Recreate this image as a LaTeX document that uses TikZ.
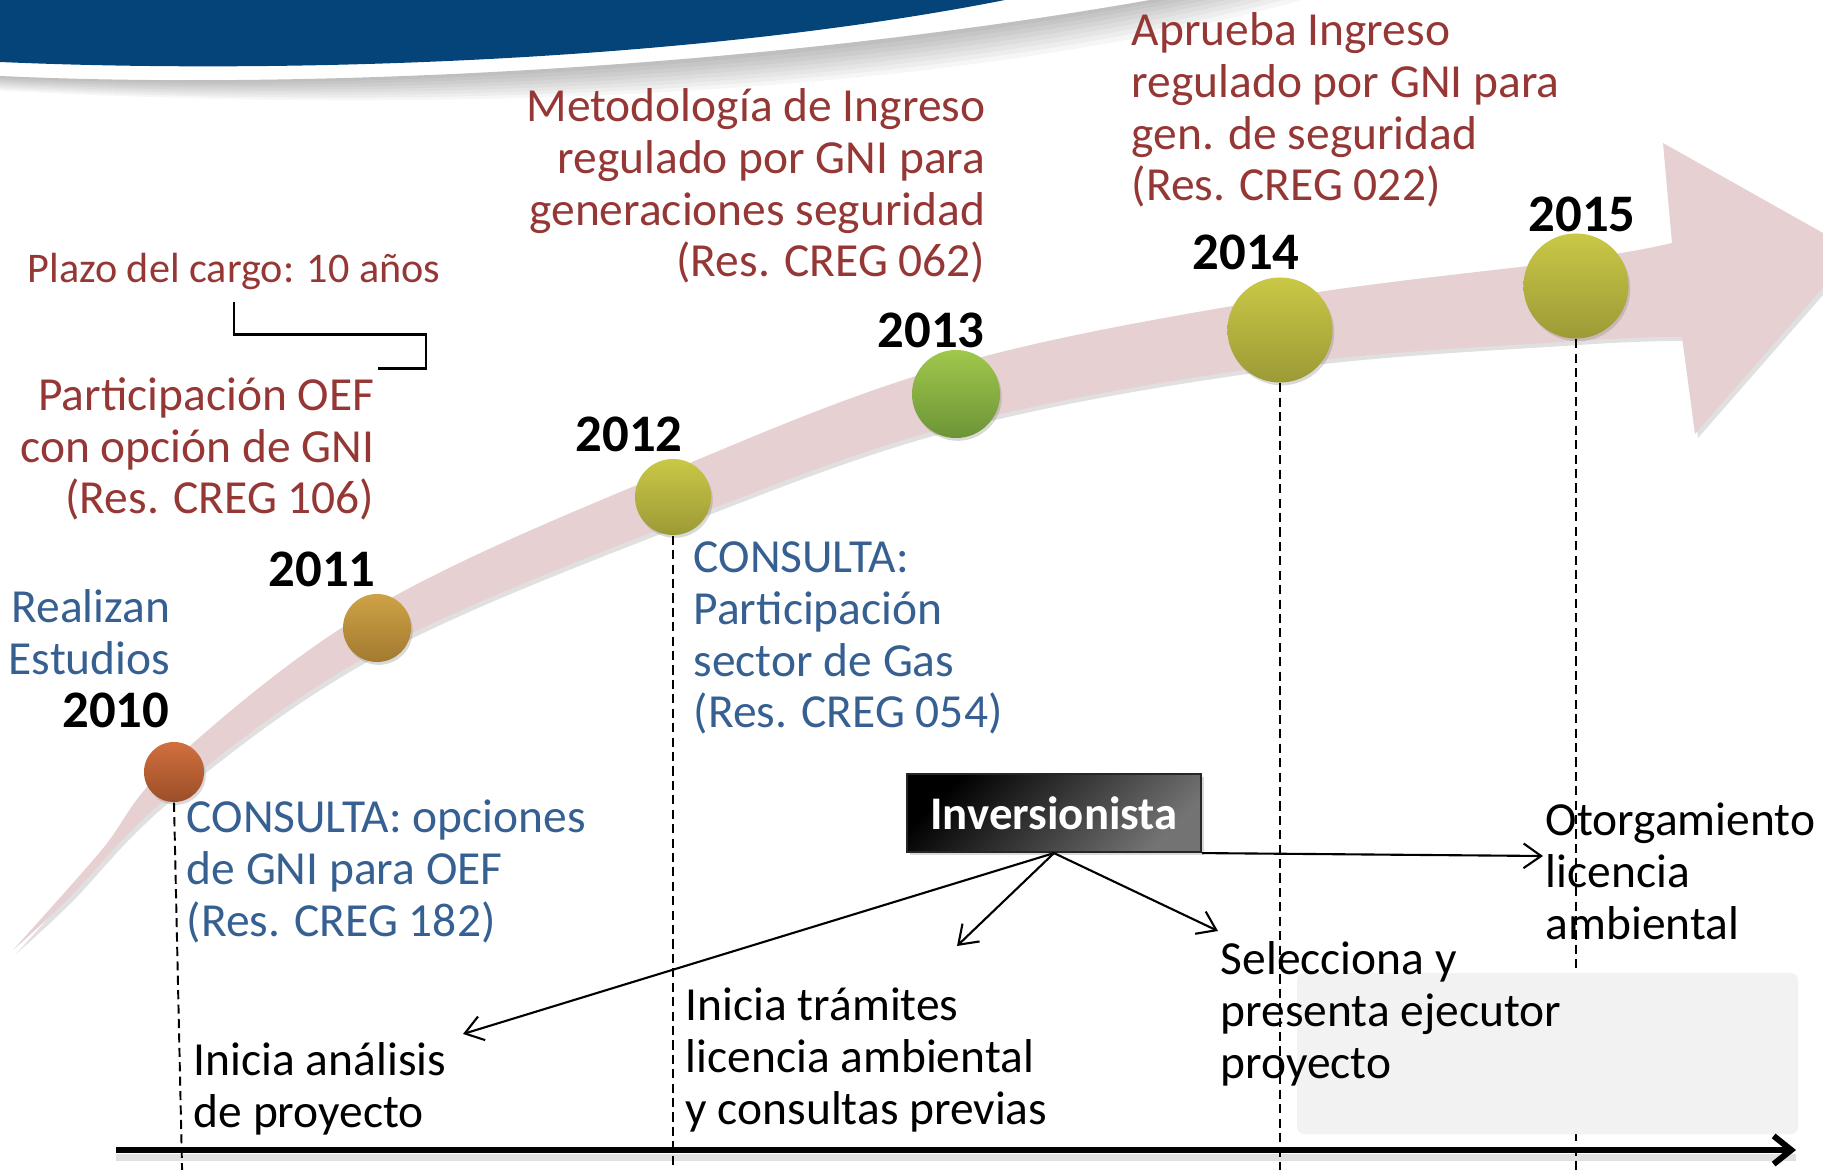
\documentclass[tikz,border=0pt]{standalone}
\usepackage{fontspec}
\setmainfont{Carlito}
\usetikzlibrary{arrows.meta,shadows}
\definecolor{resred}{RGB}{149,55,53}
\definecolor{resblue}{RGB}{55,96,146}
\definecolor{swooshblue}{RGB}{5,68,120}
\definecolor{bandpink}{RGB}{231,208,209}
\definecolor{panelgray}{RGB}{242,242,242}
\definecolor{orangeTop}{RGB}{208,112,62}
\definecolor{orangeBot}{RGB}{156,78,40}
\definecolor{goldTop}{RGB}{206,162,70}
\definecolor{goldBot}{RGB}{162,122,48}
\definecolor{oliveTop}{RGB}{202,200,70}
\definecolor{oliveBot}{RGB}{156,154,54}
\definecolor{greenTop}{RGB}{160,200,76}
\definecolor{greenBot}{RGB}{108,148,54}
\newcommand{\bandpath}{plot[smooth, tension=0.6] coordinates {(13,950) (100,852) (174,760) (377,606) (673,470) (956,364) (1280,298) (1576,260) (1672,243)}
  -- (1663,143) -- (1855,251) -- (1695,434)
  -- plot[smooth, tension=0.6] coordinates {(1682,337) (1576,341) (1280,365) (956,425) (673,524) (377,651) (174,792) (67,900) (13,950)} -- cycle}
\tikzset{
  note/.style={inner sep=0pt, font=\fontsize{13.5}{14.7}\selectfont},
  rednote/.style={note, text=resred},
  bluenote/.style={note, text=resblue},
  year/.style={inner sep=0pt, font=\fontsize{15}{18}\selectfont\bfseries},
  ball/.style={circle, inner sep=0pt, drop shadow={shadow xshift=0.5pt, shadow yshift=-0.8pt, opacity=0.3}},
  guide/.style={dash pattern=on 2.6pt off 1.5pt, line width=0.55pt},
  pointer/.style={-{Straight Barb[length=5pt,width=7pt]}, line width=0.6pt},
  timeaxis/.style={line width=1.7pt, -{Straight Barb[length=5pt,width=8pt]}},
  invbox/.style={rectangle, draw=black!85, line width=0.6pt, top color=black, bottom color=black!55, shading angle=45,
    text=white, font=\fontsize{13.3}{16}\selectfont\bfseries, minimum width=2.94cm, minimum height=0.78cm, inner sep=0pt,
    drop shadow={shadow xshift=0.8pt, shadow yshift=-0.8pt, opacity=0.3}}
}
\begin{document}
\begin{tikzpicture}[x=0.01cm, y=-0.01cm]
	\useasboundingbox (0,0) rectangle (1823,1170);
	\clip (0,0) rectangle (1823,1170);
	% header swoosh and its shadow
	\foreach \k in {1,...,8}
		\fill[black, opacity=0.035] (0,76) .. controls (300,90) and (750,70) .. (1150,0)
			-- ({1150+19*\k},0) .. controls ({750+19*\k},{70+5*\k}) and ({300+6*\k},{90+2.5*\k}) .. (0,{76+1.8*\k}) -- cycle;
	\fill[swooshblue] (0,0) -- (0,62) .. controls (300,75) and (700,60) .. (1005,0) -- cycle;

	% curved arrow
	\fill[black, opacity=0.12, shift={(3,4)}] \bandpath;
	\fill[bandpink] \bandpath;

	% years
	\node[ball, minimum size=0.6cm, top color=orangeTop, bottom color=orangeBot] at (174,772)(10){};
	\node[ball, minimum size=0.68cm, top color=goldTop, bottom color=goldBot] at (377,628)(11){};
	\node[ball, minimum size=0.76cm, top color=oliveTop, bottom color=oliveBot] at (673,497)(12){};
	\node[ball, minimum size=0.88cm, top color=greenTop, bottom color=greenBot] at (956,394)(13){};
	\node[ball, minimum size=1.05cm, top color=oliveTop, bottom color=oliveBot] at (1280,330)(14){};
	\node[ball, minimum size=1.05cm, top color=oliveTop, bottom color=oliveBot] at (1576,286)(15){};
	\node[year, anchor=base east] at (170,728)(y10){2010};
	\node[year, anchor=base] at (322,587)(y11){2011};
	\node[year, anchor=base] at (629,452)(y12){2012};
	\node[year, anchor=base] at (931,348)(y13){2013};
	\node[year, anchor=base] at (1246,270)(y14){2014};
	\node[year, anchor=base] at (1582,232)(y15){2015};

	\coordinate (floor) at (0,1170);
	\draw[guide] (10.south) -- ([xshift=2.3pt]10.south |- floor);
	\draw[guide] (12.south) -- (12.south |- floor);
	\draw[guide] (14.south) -- (14.south |- floor);
	\draw[guide] (15.south) -- (15.south |- floor);

	\fill[panelgray, rounded corners=2pt] (1297,973) rectangle (1798,1134);

	% time axis
	\coordinate (t0) at (116,1150);
	\coordinate (t1) at (1796,1150);
	\draw[line width=2pt, black, opacity=0.12] ([yshift=-2pt]t0) -- ([yshift=-2pt]t1);
	\draw[timeaxis] (t0) -- (t1);

	% resolutions (base = last line)
	\node[rednote, anchor=base east, align=right] at (986,277)(metod){Metodología de Ingreso\\regulado por GNI para\\generaciones seguridad\\(Res. CREG 062)};
	\node[rednote, anchor=base west, align=left] at (1131,201)(aprueba){Aprueba Ingreso\\regulado por GNI para\\gen. de seguridad\\(Res. CREG 022)};
	\node[rednote, font=\fontsize{12}{14}\selectfont, anchor=base west] at (27,283)(plazo){Plazo del cargo: 10 años};
	\node[rednote, anchor=base east, align=right] at (375,514)(oef){Participación OEF\\con opción de GNI\\(Res. CREG 106)};
	\draw[line width=0.6pt] ([yshift=-3pt]plazo.south) -- ++(0,33) -| ++(192,34) -- ++(-48,0);

	\node[bluenote, anchor=base east, align=right] at (171,674)(estud){Realizan\\Estudios};
	\node[bluenote, anchor=base west, align=left] at (186,936)(c182){CONSULTA: opciones\\de GNI para OEF\\(Res. CREG 182)};
	\node[bluenote, anchor=base west, align=left] at (693,728)(c054){CONSULTA:\\Participación\\sector de Gas\\(Res. CREG 054)};

	% investor steps
	\node[note, anchor=base west, align=left] at (193,1127)(analisis){Inicia análisis\\de proyecto};
	\node[note, anchor=base west, align=left] at (685,1124)(tramites){Inicia trámites\\licencia ambiental\\y consultas previas};
	\node[note, anchor=base west, align=left] at (1220,1078)(selecc){Selecciona y\\presenta ejecutor\\proyecto};
	\node[note, anchor=base west, align=left] at (1545,939)(otorga){Otorgamiento\\licencia\\ambiental};

	\node[invbox] at (1054,813)(inv){Inversionista};
	\coordinate (toA) at (463,1034);
	\coordinate (toB) at (957,946);
	\coordinate (toC) at (1218,931);
	\coordinate (toD) at (1543,856);
	\draw[pointer] (inv.south) -- (toA);
	\draw[pointer] (inv.south) -- (toB);
	\draw[pointer] (inv.south) -- (toC);
	\draw[pointer] (inv.south east) -- (toD);
\end{tikzpicture}
\end{document}
